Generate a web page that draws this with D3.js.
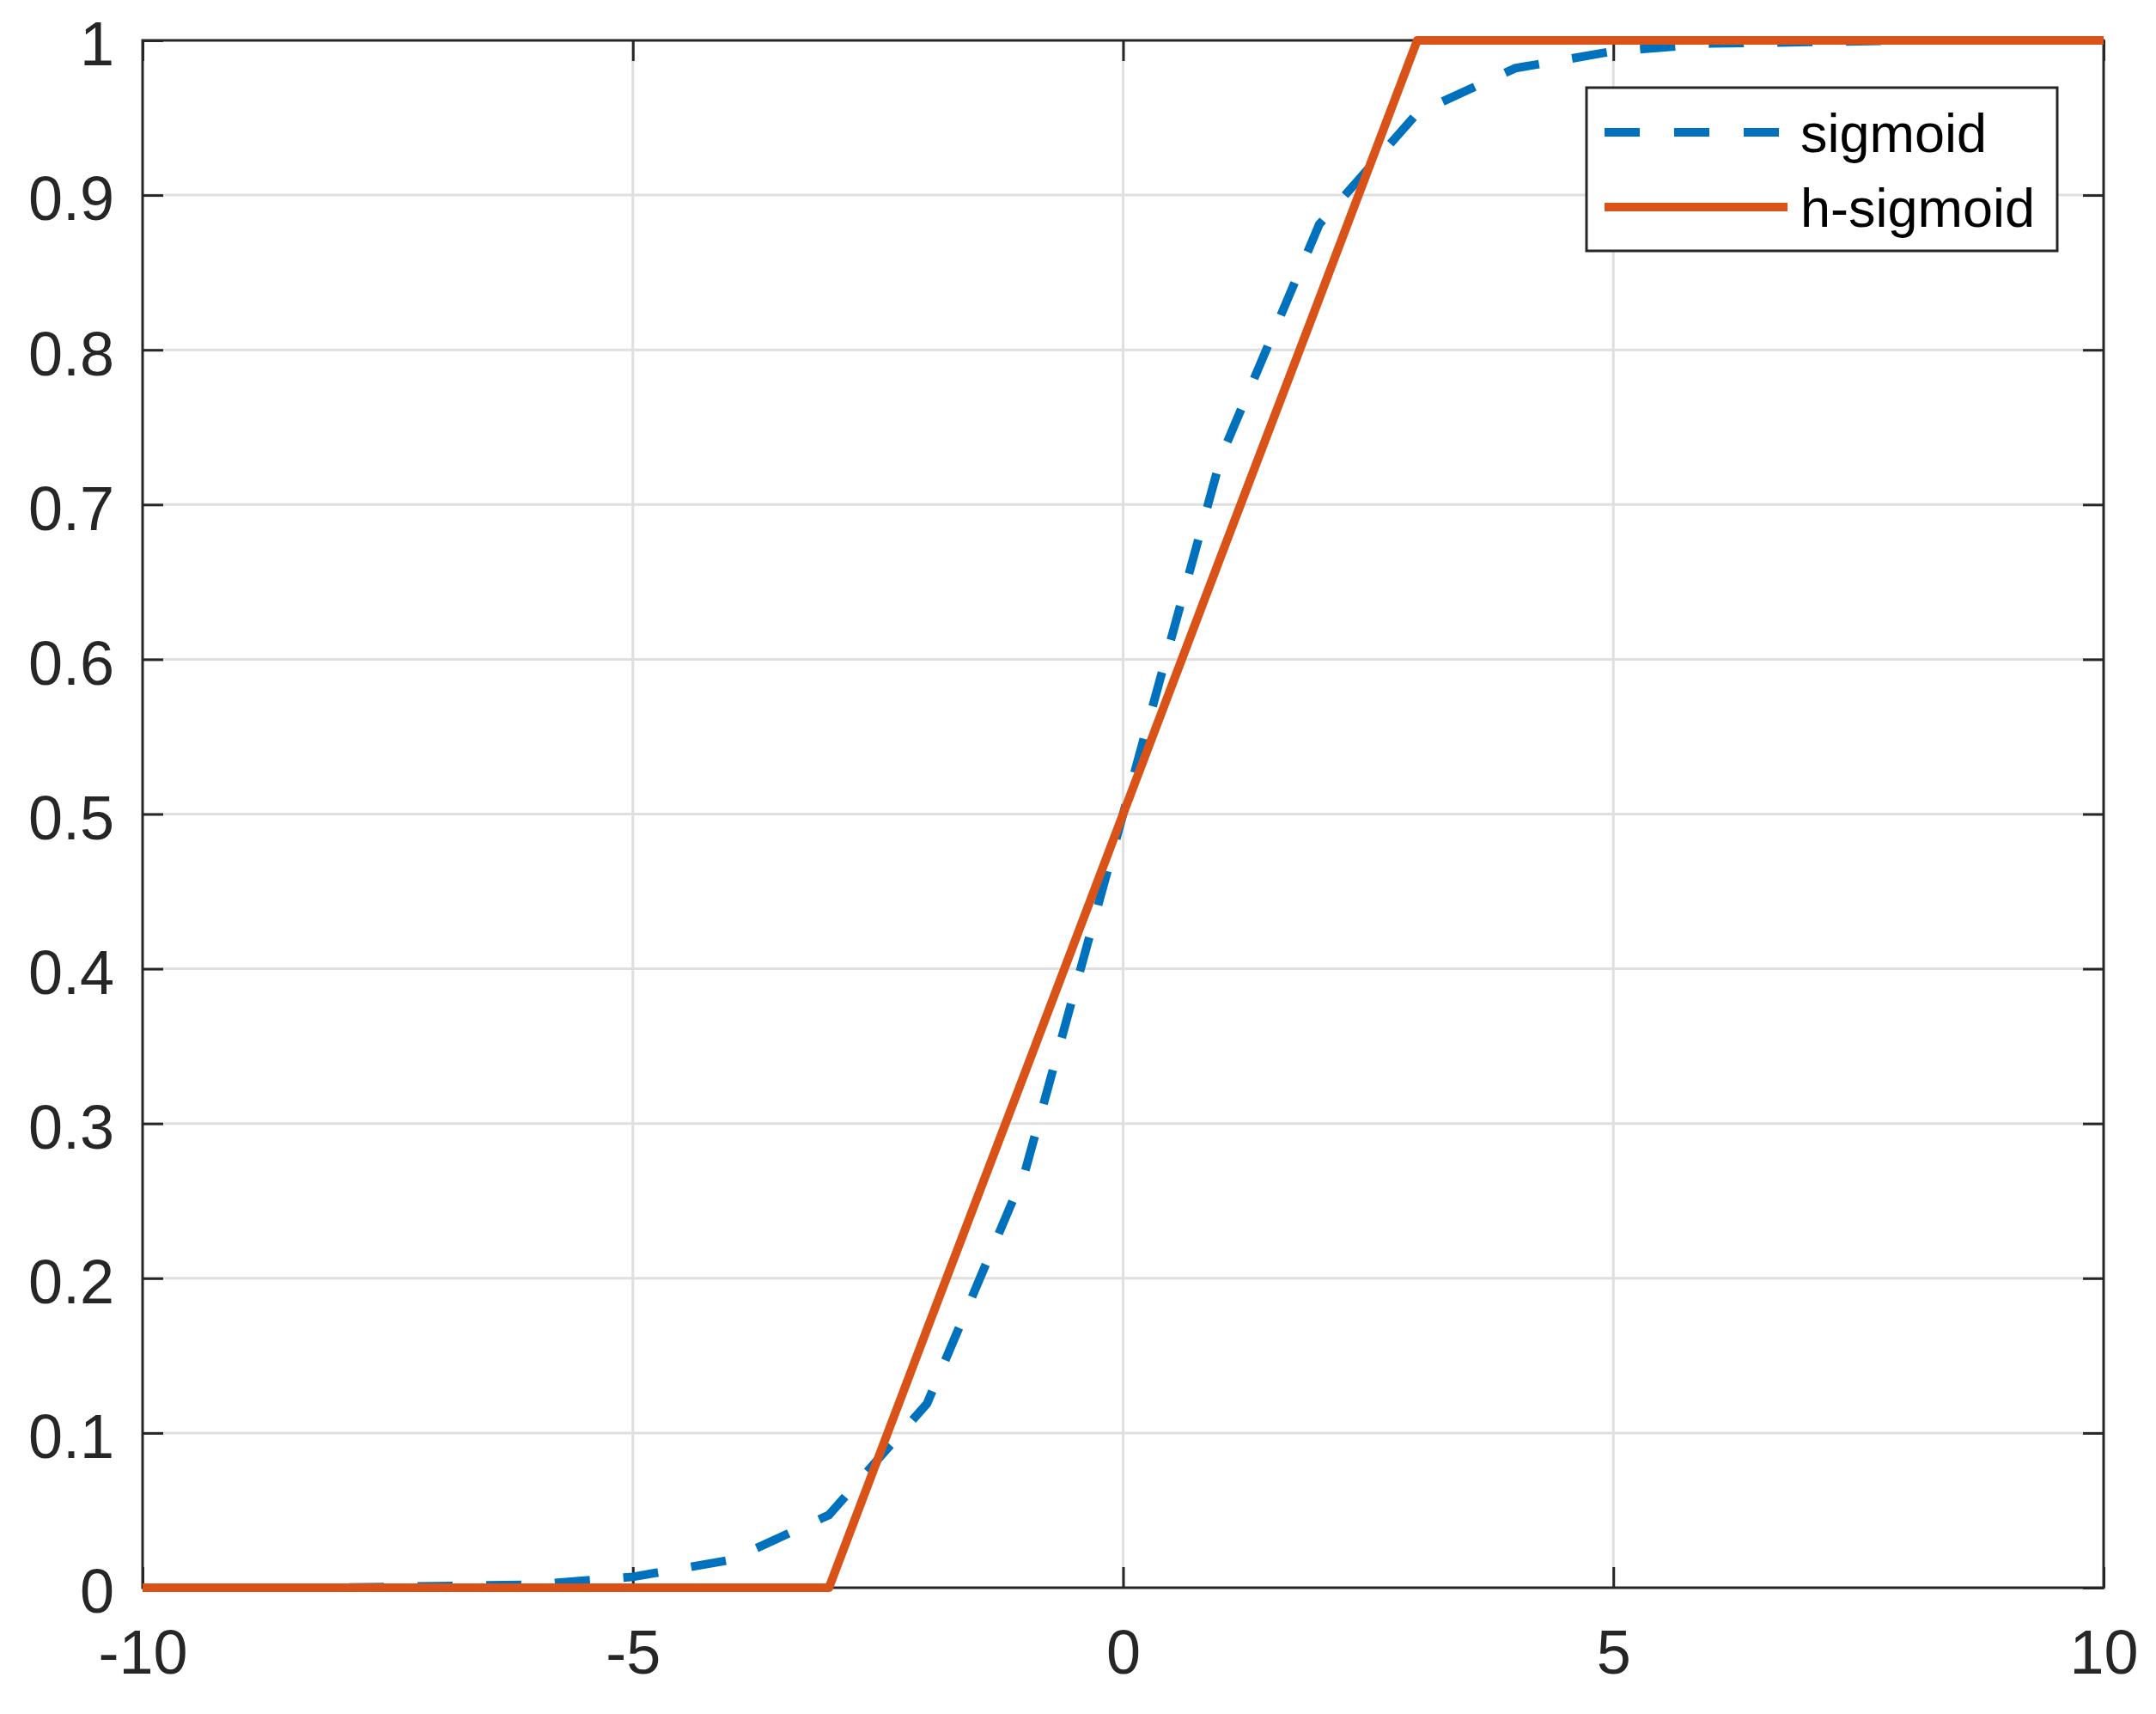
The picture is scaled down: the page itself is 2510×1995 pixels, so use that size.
<!DOCTYPE html>
<html>
<head>
<meta charset="utf-8">
<script src="https://cdn.jsdelivr.net/npm/d3@7"></script>
<style>
  html, body { margin: 0; padding: 0; background: #fff; }
  svg { display: block; }
</style>
</head>
<body>
<div class="canvas"></div>
<script>
// values, one point per integer x
const xValues = [-10, -9, -8, -7, -6, -5, -4, -3, -2, -1, 0, 1, 2, 3, 4, 5, 6, 7, 8, 9, 10]
const sigmoidValues = [0.000, 0.000, 0.000, 0.001, 0.002, 0.007, 0.018, 0.047, 0.119, 0.269, 0.500,
  0.731, 0.881, 0.953, 0.982, 0.993, 0.998, 0.999, 1.000, 1.000, 1.000]
const hSigmoidValues = [0, 0, 0, 0, 0, 0, 0, 0, 0.167, 0.333, 0.500,
  0.667, 0.833, 1, 1, 1, 1, 1, 1, 1, 1]
const xTicks = [-10, -5, 0, 5, 10]
const yTicks = [0, 0.1, 0.2, 0.3, 0.4, 0.5, 0.6, 0.7, 0.8, 0.9, 1]
const seriesNames = ['sigmoid', 'h-sigmoid']

const size = {width: 2510, height: 1995}
const box = {left: 166, right: 2449, top: 47, bottom: 1848}
const axisColor = '#262626'
const blue = '#0072BD'
const orange = '#D95319'
const font = '"Liberation Sans", Arial, Helvetica, sans-serif'

const svg = d3.select('.canvas')
  .append('svg')
  .attr('width', size.width)
  .attr('height', size.height)

const x = d3.scaleLinear().domain([-10, 10]).range([box.left, box.right])
const y = d3.scaleLinear().domain([0, 1]).range([box.bottom, box.top])

// grid
const grid = svg.append('g')
grid.selectAll('.gx')
  .data(xTicks.slice(1, -1))
  .enter().append('line')
  .attr('x1', d => x(d)).attr('x2', d => x(d))
  .attr('y1', box.top).attr('y2', box.bottom)
  .attr('stroke', '#dfdfdf').attr('stroke-width', 3)
grid.selectAll('.gy')
  .data(yTicks.slice(1, -1))
  .enter().append('line')
  .attr('x1', box.left).attr('x2', box.right)
  .attr('y1', d => y(d)).attr('y2', d => y(d))
  .attr('stroke', '#dfdfdf').attr('stroke-width', 3)

// axes, ticks point inward on all four sides
const tickLen = 24
const styleAxis = g => {
  g.select('.domain').remove()
  g.selectAll('line').attr('stroke', axisColor).attr('stroke-width', 3)
  g.selectAll('text')
    .attr('fill', axisColor)
    .style('font-family', font)
    .style('font-size', '72px')
}

// plain hyphen for negatives, like the reference
const plain = d => String(d)

const bottomAxis = svg.append('g')
  .attr('transform', `translate(0, ${box.bottom})`)
  .call(d3.axisBottom(x).tickValues(xTicks).tickSizeInner(-tickLen).tickSizeOuter(0)
    .tickPadding(100).tickFormat(plain))
  .call(styleAxis)
bottomAxis.selectAll('text').attr('dy', 0)

svg.append('g')
  .attr('transform', `translate(0, ${box.top})`)
  .call(d3.axisTop(x).tickValues(xTicks).tickSizeInner(-tickLen).tickSizeOuter(0).tickFormat(''))
  .call(styleAxis)

const leftAxis = svg.append('g')
  .attr('transform', `translate(${box.left}, 0)`)
  .call(d3.axisLeft(y).tickValues(yTicks).tickSizeInner(-tickLen).tickSizeOuter(0)
    .tickPadding(33).tickFormat(plain))
  .call(styleAxis)
leftAxis.selectAll('text').attr('dy', '0.4em')

svg.append('g')
  .attr('transform', `translate(${box.right}, 0)`)
  .call(d3.axisRight(y).tickValues(yTicks).tickSizeInner(-tickLen).tickSizeOuter(0).tickFormat(''))
  .call(styleAxis)

svg.append('rect')
  .attr('x', box.left).attr('y', box.top)
  .attr('width', box.right - box.left).attr('height', box.bottom - box.top)
  .attr('fill', 'none').attr('stroke', axisColor).attr('stroke-width', 3)

// lines
const line = d3.line()
  .x((d, i) => x(xValues[i]))
  .y(d => y(d))

svg.append('path')
  .datum(sigmoidValues)
  .attr('d', line)
  .attr('fill', 'none')
  .attr('stroke', blue)
  .attr('stroke-width', 10)
  .attr('stroke-dasharray', '41,39')

svg.append('path')
  .datum(hSigmoidValues)
  .attr('d', line)
  .attr('fill', 'none')
  .attr('stroke', orange)
  .attr('stroke-width', 10)
  .attr('stroke-linejoin', 'round')

// legend
const legend = svg.append('g')
legend.append('rect')
  .attr('x', 1847).attr('y', 102)
  .attr('width', 548).attr('height', 190)
  .attr('fill', '#fff').attr('stroke', axisColor).attr('stroke-width', 3)

const rows = [
  {name: seriesNames[0], color: blue, dash: '41,40', y: 154},
  {name: seriesNames[1], color: orange, dash: null, y: 241}
]
rows.forEach(r => {
  legend.append('line')
    .attr('x1', 1868).attr('x2', r.dash ? 2071 : 2081)
    .attr('y1', r.y).attr('y2', r.y)
    .attr('stroke', r.color).attr('stroke-width', 10)
    .attr('stroke-dasharray', r.dash)
  legend.append('text')
    .attr('x', 2096).attr('y', r.y + 23)
    .attr('fill', '#000')
    .style('font-family', font)
    .style('font-size', '63px')
    .text(r.name)
})
</script>
</body>
</html>
